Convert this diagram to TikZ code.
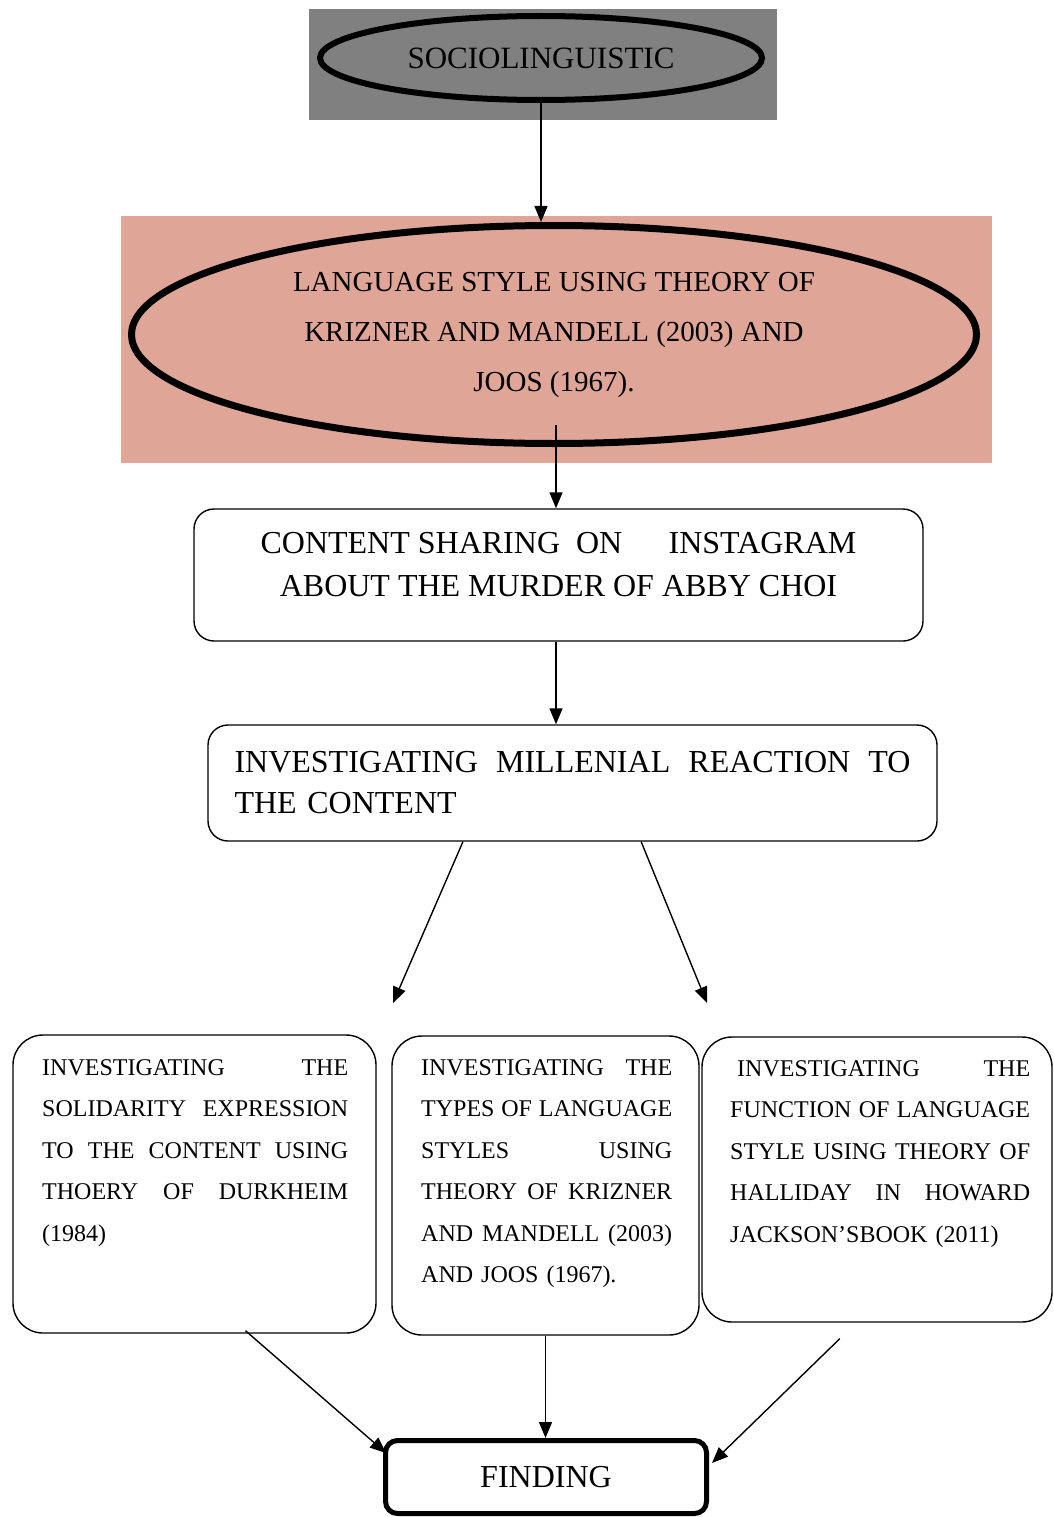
\documentclass[tikz,border=0pt]{standalone}
\usepackage{fontspec}
\setmainfont{Liberation Serif}
\usetikzlibrary{arrows.meta}
\usetikzlibrary{calc}
\usetikzlibrary{shapes.geometric}
\usetikzlibrary{positioning}

\definecolor{salmonbg}{RGB}{223,166,151}

\begin{document}
\begin{tikzpicture}[x=1pt,y=-1pt]
	\useasboundingbox (0,0) rectangle (1054,1517);

	\begin{scope}[every node/.style={rectangle, inner sep=0pt}]
		\node[fill=gray, minimum width=468pt, minimum height=111pt] (sociobg) at (543,64.5) {};
		\node[fill=salmonbg, minimum width=871pt, minimum height=247pt] (stylebg) at (556.5,339.5) {};
	\end{scope}

	\begin{scope}[every node/.style={ellipse, draw, inner sep=0pt, align=center}]
		\node[line width=6pt, minimum width=442pt, minimum height=84pt, font=\fontsize{31}{36}\selectfont] (socio) at (541,58) {SOCIOLINGUISTIC};
		\node[line width=7pt, minimum width=845pt, minimum height=218pt, font=\fontsize{29}{50}\selectfont] (style) at (554,334.5) {LANGUAGE STYLE USING THEORY OF\\KRIZNER AND MANDELL (2003) AND\\JOOS (1967).};
	\end{scope}

	\begin{scope}[every node/.style={rectangle, draw, rounded corners=20pt, line width=1.4pt}]
		\node[minimum width=729pt, minimum height=132pt, align=center, font=\fontsize{32}{43}\selectfont] (content) at (558.5,575) {CONTENT SHARING\hspace{0.5em}ON\hspace{1.45em}INSTAGRAM\\ABOUT THE MURDER OF ABBY CHOI\\[-22pt]\mbox{}};
		\node[minimum width=729pt, minimum height=116pt, text width=676pt, align=left, font=\fontsize{32}{41}\selectfont] (invest) at (572.5,783) {INVESTIGATING\hfill MILLENIAL\hfill REACTION\hfill TO\\THE CONTENT};
		\node[rounded corners=30pt, minimum width=363pt, minimum height=298pt] (solid) at (194.5,1184) {};
		\node[rounded corners=30pt, minimum width=307pt, minimum height=299pt] (types) at (545.5,1185.5) {};
		\node[rounded corners=30pt, minimum width=350pt, minimum height=285pt] (func) at (877,1179.5) {};
		\node[rounded corners=12pt, line width=5pt, minimum width=321pt, minimum height=73pt, font=\fontsize{32}{36}\selectfont] (finding) at (546,1477) {FINDING};
	\end{scope}

	\begin{scope}[every node/.style={anchor=north west, inner sep=0pt, align=left, font=\fontsize{24}{41.5}\selectfont}]
		\node[text width=306pt] (solidtxt) at (42,1059) {INVESTIGATING\hfill THE\\SOLIDARITY\hfill EXPRESSION\\TO\hfill THE\hfill CONTENT\hfill USING\\THOERY\hfill OF\hfill DURKHEIM\\(1984)};
		\node[text width=251pt] (typestxt) at (421,1059) {INVESTIGATING\hfill THE\\TYPES\hfill OF\hfill LANGUAGE\\STYLES\hfill USING\\THEORY\hfill OF\hfill KRIZNER\\AND\hfill MANDELL\hfill (2003)\\AND JOOS (1967).};
		\node[text width=300pt] (functxt) at (730,1060) {\hspace*{7pt}INVESTIGATING\hfill THE\\FUNCTION\hfill OF\hfill LANGUAGE\\STYLE\hfill USING\hfill THEORY\hfill OF\\HALLIDAY\hfill IN\hfill HOWARD\\JACKSON’SBOOK (2011)};
	\end{scope}

	\coordinate (s2) at (556,425);
	\coordinate (ml) at (393,1003);
	\coordinate (mr) at (707,1003);

	\begin{scope}[>={Stealth[black, length=16pt, width=13pt, inset=0pt]},
	              every edge/.style={draw=black, line width=1.4pt}]
		\path (socio.south) edge[->] (socio.south |- style.north);
		\path (s2) edge[->] (s2 |- content.north);
		\path (content.south -| s2) edge[->] (s2 |- invest.north);
		\path ($(invest.south west)!0.35!(invest.south east)$) edge[->] (ml);
		\path ($(invest.south west)!0.594!(invest.south east)$) edge[->] (mr);
		\path ($(solid.south west)!0.64!(solid.south east)+(0,-3)$) edge[->] ($(finding.north west)+(3,15)$);
		\path (types.south) edge[->] (types.south |- finding.north);
		\path ($(func.south west)!0.394!(func.south east)+(0,16)$) edge[->] ($(finding.north east)+(3,25)$);
	\end{scope}
\end{tikzpicture}
\end{document}
